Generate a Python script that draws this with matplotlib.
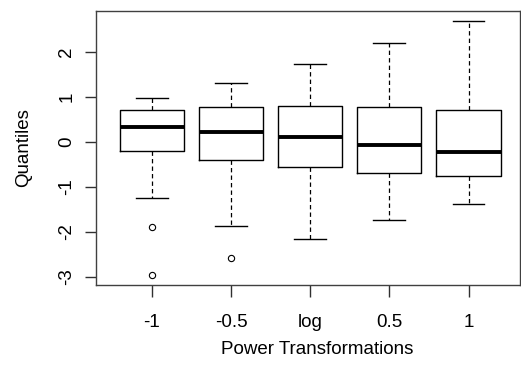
import matplotlib
matplotlib.use("Agg")
import matplotlib.pyplot as plt

plt.rcParams['font.family'] = ['Liberation Sans', 'DejaVu Sans']

labels = ["-1", "-0.5", "log", "0.5", "1"]
whislo = [-1.26, -1.87, -2.16, -1.74, -1.38]
q1 = [-0.21, -0.40, -0.56, -0.69, -0.76]
med = [0.33, 0.21, 0.10, -0.07, -0.22]
q3 = [0.70, 0.78, 0.80, 0.78, 0.70]
whishi = [0.96, 1.30, 1.73, 2.18, 2.67]
fliers = [[-1.90, -2.95], [-2.57], [], [], []]

stats = []
for i in range(len(labels)):
    stats.append(dict(label=labels[i], whislo=whislo[i], q1=q1[i], med=med[i],
                      q3=q3[i], whishi=whishi[i], fliers=fliers[i]))

W, H = 521, 367
fig = plt.figure(figsize=(W / 100, H / 100), dpi=100)
ax = fig.add_axes([96 / W, (H - 285) / H, 424 / W, 274 / H])

ax.bxp(stats, positions=range(1, 6), widths=0.81, showfliers=True,
       boxprops=dict(color='black', linewidth=1.0),
       medianprops=dict(color='black', linewidth=2.8, solid_capstyle='butt'),
       whiskerprops=dict(color='black', linewidth=0.9, linestyle=(0, (3.5, 2.5))),
       capprops=dict(color='black', linewidth=1.0),
       capwidths=0.4,
       flierprops=dict(marker='o', markerfacecolor='white', markeredgecolor='black',
                       markersize=4.5, markeredgewidth=0.8, linestyle='none'))

ax.set_xlim(0.296, 5.65)
ax.set_ylim(-3.18, 2.90)
ax.set_yticks([-3, -2, -1, 0, 1, 2])
ax.set_yticklabels(["-3", "-2", "-1", "0", "1", "2"], rotation=90, va='center')
ax.set_xticks(range(1, 6))
ax.set_xticklabels(labels)

for s in ax.spines.values():
    s.set_color('#404040')
    s.set_linewidth(1.0)

fs = 13.5
ax.tick_params(axis='x', direction='out', length=8.6, width=1.0, color='#303030',
               labelsize=fs, pad=12)
ax.tick_params(axis='y', direction='out', length=8, width=1.0, color='#303030',
               labelsize=fs, pad=7)

ax.set_xlabel("Power Transformations", fontsize=fs, labelpad=5)
ax.xaxis.set_label_coords(0.522, -0.205)
ax.set_ylabel("Quantiles", fontsize=fs, labelpad=19)

fig.savefig("out.png", dpi=100)
